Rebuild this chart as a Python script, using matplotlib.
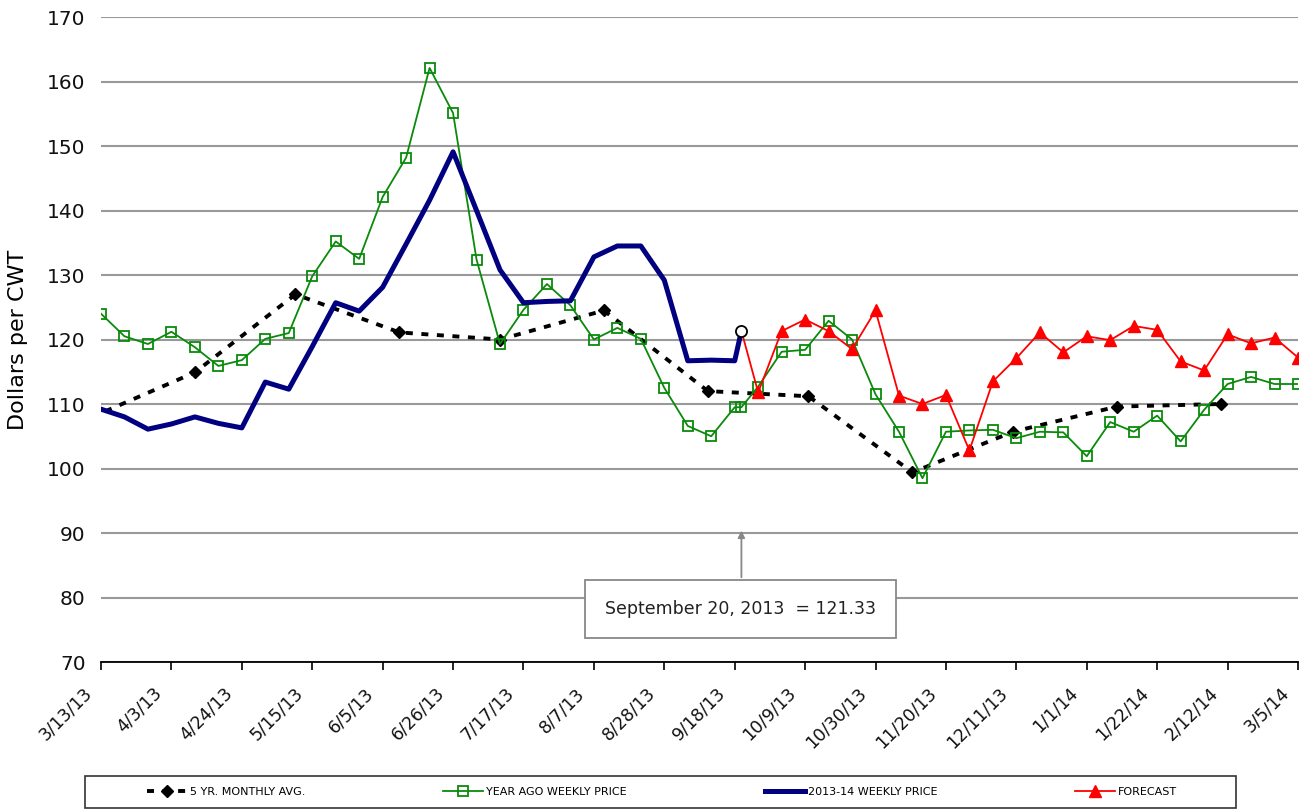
import datetime as dt

import matplotlib
matplotlib.use("Agg")
import matplotlib.pyplot as plt
import matplotlib.dates as mdates
import matplotlib.transforms as mtransforms
from matplotlib import font_manager
from matplotlib.patches import Rectangle
import pandas as pd

plt.rcParams["font.family"] = ["DejaVu Sans"]

# weekly dates (Wednesdays) from 3/13/13, plus the 9/20/13 point
weeks = list(pd.date_range("2013-03-13", periods=52, freq="7D"))
sep20 = pd.Timestamp("2013-09-20")

# 2013-14 weekly price (weeks 0..27, then 9/20)
cur_dates = weeks[:28] + [sep20]
cur_vals = [109.2, 108.0, 106.1, 106.9, 108.0, 107.0, 106.3, 113.4, 112.3, 118.9,
            125.7, 124.4, 128.1, 134.8, 141.6, 149.1, 140.0, 130.8, 125.7, 125.9,
            126.0, 132.8, 134.5, 134.5, 129.2, 116.7, 116.8, 116.7, 121.33]

# year ago weekly price
ago_dates = weeks[:28] + [sep20] + weeks[28:]
ago_vals = [124.0, 120.5, 119.3, 121.2, 118.8, 115.9, 116.8, 120.1, 121.0, 129.8,
            135.2, 132.5, 142.1, 148.2, 162.1, 155.1, 132.4, 119.3, 124.6, 128.6,
            125.3, 120.0, 121.8, 120.1, 112.5, 106.6, 105.0, 109.5, 109.5, 112.7,
            118.1, 118.4, 122.9, 120.0, 111.5, 105.7, 98.5, 105.7, 105.9, 106.0,
            104.7, 105.7, 105.6, 101.9, 107.2, 105.7, 108.2, 104.2, 109.1, 113.1,
            114.2, 113.1, 113.1]

# forecast (starts from the 9/20 price)
fc_dates = [sep20] + weeks[28:]
fc_vals = [121.33, 111.8, 121.3, 123.1, 121.3, 118.5, 124.5, 111.3, 110.0, 111.4,
           102.8, 113.5, 117.1, 121.1, 118.0, 120.5, 119.9, 122.1, 121.5, 116.6,
           115.2, 120.8, 119.4, 120.3, 117.2]

# 5 yr monthly average (10th of each month)
avg_dates = pd.to_datetime(["2013-03-10", "2013-04-10", "2013-05-10", "2013-06-10",
                            "2013-07-10", "2013-08-10", "2013-09-10", "2013-10-10",
                            "2013-11-10", "2013-12-10", "2014-01-10", "2014-02-10"])
avg_vals = [107.9, 114.9, 127.0, 121.1, 120.0, 124.5, 112.0, 111.2, 99.4, 105.7,
            109.6, 110.0]

tick_dates = list(pd.date_range("2013-03-13", "2014-03-05", freq="21D"))
tick_labels = [f"{d.month}/{d.day}/{d.strftime('%y')}" for d in tick_dates]

# narrow font for the legend if one is there
names = {f.name for f in font_manager.fontManager.ttflist}
if "Liberation Sans Narrow" in names:
    leg_prop = {"family": ["Liberation Sans Narrow", "DejaVu Sans"], "size": 10}
else:
    leg_prop = {"family": ["DejaVu Sans"], "size": 8}

fig = plt.figure(figsize=(13.02, 8.09), dpi=100)
ax = fig.add_axes([101 / 1302, 1 - 662 / 809, 1197 / 1302, 645 / 809])

ax.plot(avg_dates, avg_vals, color="black", lw=2.8, dashes=(1.8, 2.2),
        marker="D", ms=6.5, mfc="black", mec="black", label="5 YR. MONTHLY AVG.", zorder=3)
ax.plot(ago_dates, ago_vals, color="#0a8a0a", lw=1.3, marker="s", ms=7.5,
        mfc="none", mec="#0a8a0a", mew=1.3, label="YEAR AGO WEEKLY PRICE", zorder=4)
ax.plot(cur_dates, cur_vals, color="#000080", lw=3.6, label="2013-14 WEEKLY PRICE", zorder=5)
ax.plot(fc_dates, fc_vals, color="#ff0000", lw=1.3, marker="^", ms=8.5,
        markevery=list(range(1, len(fc_vals))), label="FORECAST", zorder=6)
ax.plot([sep20], [121.33], marker="o", ms=8, mfc="white", mec="black", mew=1.3,
        ls="none", zorder=7)

ax.set_xlim(tick_dates[0], tick_dates[-1])
ax.set_ylim(70, 170)
ax.set_yticks(range(70, 171, 10))
ax.yaxis.grid(True, color="#999999", lw=1.5)
ax.set_axisbelow(True)
for s in ["left", "right", "top"]:
    ax.spines[s].set_visible(False)
ax.spines["bottom"].set_color("black")
ax.spines["bottom"].set_linewidth(1.3)

# x tick labels drawn as texts, nudged like the original
ax.set_xticks(tick_dates)
ax.set_xticklabels([])
ax.tick_params(axis="x", length=6, width=1.2)
trans = mtransforms.blended_transform_factory(ax.transData, ax.transAxes)
shift = mtransforms.ScaledTranslation(-0.12, -0.285, fig.dpi_scale_trans)
for d, lbl in zip(tick_dates, tick_labels):
    ax.text(d, 0, lbl, transform=trans + shift, rotation=45, ha="right", va="center",
            rotation_mode="anchor", fontsize=12.5, color="#111111", clip_on=False)

ax.tick_params(axis="y", length=0, pad=11, labelsize=14.5, labelcolor="#111111")
ax.set_ylabel("Dollars per CWT", fontsize=16, labelpad=14)

# annotation box + arrow
x0 = mdates.date2num(dt.datetime(2013, 3, 13)) + 144.4
x1 = mdates.date2num(dt.datetime(2013, 3, 13)) + 237.1
ax.add_patch(Rectangle((x0, 73.7), x1 - x0, 9.0, fc="white", ec="#888888", lw=1.3, zorder=8))
ax.text((x0 + x1) / 2, 78.2, "September 20, 2013  = 121.33", ha="center", va="center",
        fontsize=12.5, color="#222222", zorder=9)
ax.annotate("", xy=(sep20, 90.8), xytext=(sep20, 82.7),
            arrowprops=dict(arrowstyle="-|>", color="#888888", lw=1.3, mutation_scale=10),
            zorder=8)

# legend: entries spread across, frame drawn separately
leg = fig.legend(loc="center left", ncol=4, mode="expand",
                 bbox_to_anchor=(147 / 1302, 1 - 792 / 809, 1030 / 1302, 0),
                 frameon=False, handlelength=3.6, borderaxespad=0, borderpad=0,
                 handletextpad=0.25, prop=leg_prop)
fig.patches.append(Rectangle((85 / 1302, 1 - 808 / 809), 1151 / 1302, 32 / 809,
                             transform=fig.transFigure, fc="none", ec="#333333", lw=1.2))

fig.savefig("out.png", dpi=100)
